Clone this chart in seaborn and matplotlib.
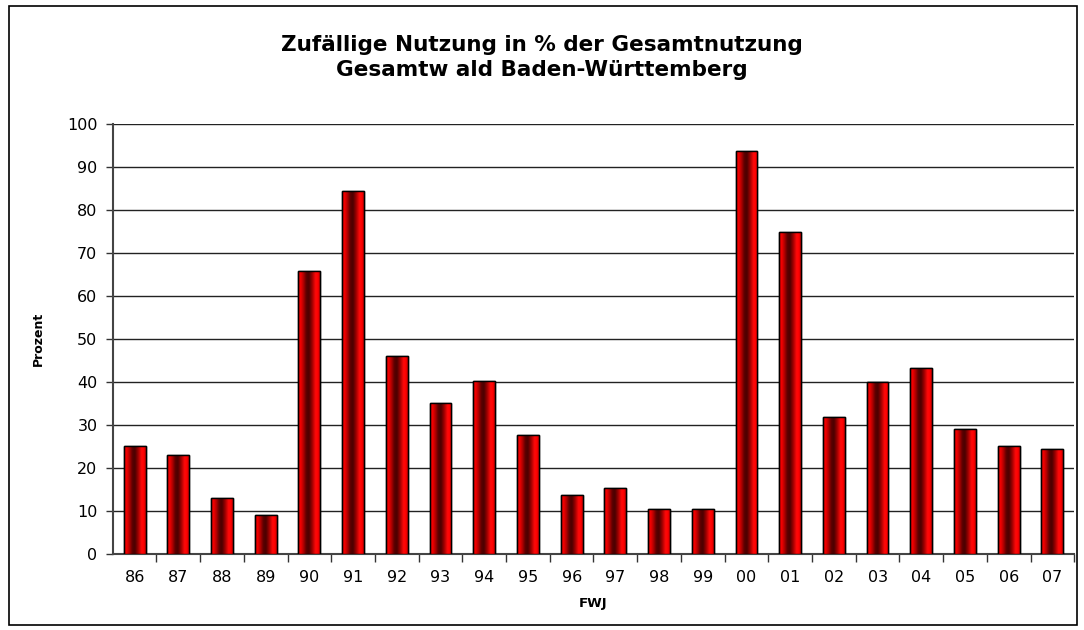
import numpy as np
import pandas as pd
import seaborn as sns
import matplotlib.pyplot as plt
from matplotlib.colors import LinearSegmentedColormap
from matplotlib.patches import Rectangle

# Daten: Forstwirtschaftsjahr und zufällige Nutzung in %
jahre = ['86', '87', '88', '89', '90', '91', '92', '93', '94', '95', '96',
         '97', '98', '99', '00', '01', '02', '03', '04', '05', '06', '07']
prozent = [25.1, 22.9, 13.0, 9.1, 65.9, 84.5, 46.0, 35.2, 40.1, 27.7, 13.7,
           15.4, 10.5, 10.5, 93.8, 74.8, 31.8, 40.0, 43.2, 29.1, 25.1, 24.3]

df = pd.DataFrame({'FWJ': jahre, 'Prozent': prozent})

sns.set_theme(style="white")
plt.rcParams['font.family'] = ['DejaVu Sans']
plt.rcParams['text.color'] = 'black'
plt.rcParams['axes.labelcolor'] = 'black'
plt.rcParams['xtick.color'] = 'black'
plt.rcParams['ytick.color'] = 'black'

fig = plt.figure(figsize=(10.84, 6.3), dpi=100)
ax = fig.add_axes([0.104, 0.121, 0.887, 0.682])

sns.barplot(ax=ax, x='FWJ', y='Prozent', data=df, width=0.5,
            color='red', edgecolor='black', linewidth=1.0, zorder=3)

# Zylinder-Verlauf in jedem Balken
cmap = LinearSegmentedColormap.from_list('zyl', [
    (0.0, '#a00000'), (0.1, '#ff0000'), (0.25, '#b00000'),
    (0.38, '#5a0000'), (0.5, '#4a0000'), (0.65, '#a00000'),
    (0.8, '#ff0a0a'), (0.92, '#ff0000'), (1.0, '#b00000')])
grad = np.linspace(0, 1, 256).reshape(1, -1)
for p in ax.patches:
    x0, y0 = p.get_x(), p.get_y()
    w, h = p.get_width(), p.get_height()
    im = ax.imshow(grad, cmap=cmap, aspect='auto', extent=(x0, x0 + w, y0, y0 + h),
                   zorder=3.5, interpolation='bicubic')
    im.set_clip_path(p)
    ax.add_patch(Rectangle((x0, y0), w, h, fill=False, edgecolor='black',
                           linewidth=1.0, zorder=4))

ax.set_xlim(-0.5, len(jahre) - 0.5)
ax.set_ylim(0, 100)
ax.set_yticks(range(0, 101, 10))
ax.yaxis.grid(True, color='#222222', linewidth=1.0, zorder=0)
ax.set_axisbelow(True)

ax.set_xticks(np.arange(len(jahre)) + 0.5, minor=True)
ax.tick_params(axis='x', which='major', length=0, pad=12, labelsize=11.5)
ax.tick_params(axis='x', which='minor', length=6, width=1, color='#333333',
               direction='out', bottom=True)
ax.tick_params(axis='y', length=5, width=1, color='#333333', direction='out',
               left=True, labelsize=11.5, pad=6)

for s in ['top', 'right']:
    ax.spines[s].set_visible(False)
for s in ['left', 'bottom']:
    ax.spines[s].set_color('#444444')
    ax.spines[s].set_linewidth(1.5)

ax.set_xlabel('FWJ', fontsize=9.5, fontweight='bold', labelpad=8)
ax.set_ylabel('Prozent', fontsize=9, fontweight='bold', labelpad=16)

fig.text(0.5, 0.909, 'Zufällige Nutzung in % der Gesamtnutzung\nGesamtw ald Baden-Württemberg',
         ha='center', va='center', fontsize=15.5, fontweight='bold', linespacing=1.35)

fig.patches.append(Rectangle((0.008, 0.008), 0.986, 0.982, transform=fig.transFigure,
                             fill=False, edgecolor='black', linewidth=1.2))

plt.savefig('out.png', dpi=100)
plt.close('all')
